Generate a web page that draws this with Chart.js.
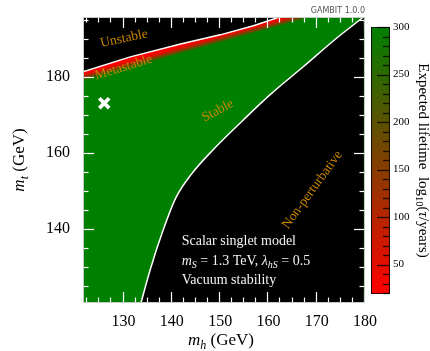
<!DOCTYPE html>
<html><head><meta charset="utf-8">
<script src="https://cdn.jsdelivr.net/npm/chart.js@4.4.1/dist/chart.umd.min.js"></script>
<style>
html,body{margin:0;padding:0;background:#fff;}
#wrap{position:relative;width:430px;height:351px;overflow:hidden;}
#main{position:absolute;left:0;top:0;}
#cbar{position:absolute;left:365px;top:0;}
</style></head><body>
<div id="wrap">
<canvas id="main" width="430" height="351"></canvas>
<canvas id="cbar" width="65" height="351"></canvas>
</div>
<script>
// ---- data ----
const stabilityMh = [121.6, 131.4, 141.8, 150.0, 156.9, 162.3, 179.7];
const stabilityMt = [181.3, 185.2, 188.6, 191.0, 193.4, 195.7, 195.7];
const perturbMh = [133.6, 135.5, 138.2, 140.8, 144.1, 148.5, 154.8, 160.3, 167.2, 174.1, 179.7];
const perturbMt = [120.4, 129.1, 139.6, 148.0, 154.4, 160.7, 168.6, 175.2, 182.6, 190.1, 195.7];
const bestFitMh = [126.0];
const bestFitMt = [173.0];
const xTickValues = [130, 140, 150, 160, 170, 180];
const yTickValues = [140, 160, 180];
const lifetimeRange = [19, 300];
const lifetimeTicks = [50, 100, 150, 200, 250, 300];

const SERIF = '"Liberation Serif", "DejaVu Serif", serif';
const ANNOT = '#c98500';

function pts(xs, ys){ return xs.map((x,i)=>({x:x, y:ys[i]})); }
function fontStr(s){ return (s.it?'italic ':'') + s.sz + 'px ' + SERIF; }
function drawRich(ctx, segs, x, y, angle, align){
  ctx.save(); ctx.translate(x,y); ctx.rotate(angle||0);
  ctx.textAlign='left'; ctx.textBaseline='alphabetic';
  const w = segs.map(s=>{ctx.font=fontStr(s); return ctx.measureText(s.t).width;});
  const tot = w.reduce((a,b)=>a+b,0);
  let cx = align==='center' ? -tot/2 : 0;
  segs.forEach((s,i)=>{ ctx.font=fontStr(s); ctx.fillText(s.t, cx, s.dy||0); cx+=w[i]; });
  ctx.restore();
}
function bandGradient(c){
  const ch=c.chart, a=ch.chartArea;
  if(!a || !ch.scales.x) return 'rgb(0,128,0)';
  const xs=ch.scales.x, ys=ch.scales.y;
  const n=stabilityMh.length-2;
  const x1=xs.getPixelForValue(stabilityMh[0]), y1=ys.getPixelForValue(stabilityMt[0]);
  const x2=xs.getPixelForValue(stabilityMh[n]), y2=ys.getPixelForValue(stabilityMt[n]);
  let dx=x2-x1, dy=y2-y1; const L=Math.hypot(dx,dy); dx/=L; dy/=L;
  const nx=-dy, ny=dx, w=9;
  const g=ch.ctx.createLinearGradient(x1,y1,x1+nx*w,y1+ny*w);
  g.addColorStop(0,'rgb(255,0,0)'); g.addColorStop(0.35,'rgb(228,12,0)');
  g.addColorStop(0.7,'rgb(110,72,0)'); g.addColorStop(1,'rgb(0,128,0)');
  return g;
}
function tickLine(ctx,x1,y1,x2,y2){ ctx.beginPath(); ctx.moveTo(x1,y1); ctx.lineTo(x2,y2); ctx.stroke(); }

const ticksPlugin = {
  id:'inwardTicks',
  afterDatasetsDraw(chart){
    const ctx=chart.ctx, a=chart.chartArea, xs=chart.scales.x, ys=chart.scales.y;
    const L=Math.round(a.left), R=Math.round(a.right), T=Math.round(a.top), B=Math.round(a.bottom);
    ctx.save();
    ctx.strokeStyle='#ffffff'; ctx.lineWidth=1.2; ctx.lineCap='butt';
    for(let v=Math.ceil(xs.min/2.5)*2.5; v<=xs.max+1e-6; v+=2.5){
      const major = xTickValues.some(t=>Math.abs(t-v)<1e-6);
      const len = major?11:5.5; const px=Math.round(xs.getPixelForValue(v))-0.5;
      tickLine(ctx,px,B,px,B-len);
      tickLine(ctx,px,T,px,T+len);
    }
    for(let v=Math.ceil(ys.min/5)*5; v<=ys.max+1e-6; v+=5){
      const major = yTickValues.some(t=>Math.abs(t-v)<1e-6);
      const len = major?11:5.5; const py=Math.round(ys.getPixelForValue(v))+0.5;
      tickLine(ctx,L,py,L+len,py);
      tickLine(ctx,R,py,R-len,py);
    }
    ctx.strokeStyle='#c8c8c8'; ctx.lineWidth=1;
    ctx.strokeRect(L+0.5,T+0.5,R-L-1,B-T-1);
    ctx.restore();
  }
};

const framePlugin = {
  id:'frame',
  beforeDatasetsDraw(chart){
    const {ctx, chartArea:a} = chart;
    ctx.save(); ctx.fillStyle='#000'; ctx.fillRect(a.left,a.top,a.width,a.height); ctx.restore();
  },
  afterDatasetsDraw(chart){
    const ctx=chart.ctx, xs=chart.scales.x, ys=chart.scales.y;
    const P=(mx,mt)=>[xs.getPixelForValue(mx), ys.getPixelForValue(mt)];
    ctx.save();
    ctx.fillStyle=ANNOT; ctx.textAlign='center'; ctx.textBaseline='middle';
    const ann=[['Unstable',130.1,190.0,-12],['Metastable',130.0,182.4,-17],['Stable',149.5,171.0,-28],['Non-perturbative',169.1,150.2,-54]];
    ann.forEach(([t,mx,mt,ang])=>{
      const [px,py]=P(mx,mt);
      ctx.save(); ctx.translate(px,py); ctx.rotate(ang*Math.PI/180);
      ctx.font='13.5px '+SERIF; ctx.fillText(t,0,0); ctx.restore();
    });
    ctx.restore();
    ctx.save(); ctx.fillStyle='#f2f2f2';
    const lx=181.7;
    drawRich(ctx,[{t:'Scalar singlet model',sz:14}],lx,245,0,'left');
    drawRich(ctx,[{t:'m',it:1,sz:14},{t:'S',it:1,sz:10,dy:3},{t:' = 1.3 TeV, ',sz:14},{t:'λ',it:1,sz:14},{t:'hS',it:1,sz:10,dy:3},{t:' = 0.5',sz:14}],lx,264.5,0,'left');
    drawRich(ctx,[{t:'Vacuum stability',sz:14}],lx,283.5,0,'left');
    ctx.restore();
  },
  afterDraw(chart){
    const ctx=chart.ctx, a=chart.chartArea;
    ctx.save(); ctx.fillStyle='#000';
    drawRich(ctx,[{t:'m',it:1,sz:17},{t:'h',it:1,sz:12,dy:3.5},{t:' (GeV)',sz:17}],221,345,0,'center');
    drawRich(ctx,[{t:'m',it:1,sz:17},{t:'t',it:1,sz:12,dy:3.5},{t:' (GeV)',sz:17}],24,160,-Math.PI/2,'center');
    ctx.restore();
    ctx.save(); ctx.fillStyle='#555'; ctx.font='8px "DejaVu Sans", sans-serif';
    ctx.textAlign='right'; ctx.textBaseline='alphabetic'; ctx.fillText('GAMBIT 1.0.0', a.right, 13);
    ctx.restore();
  }
};

new Chart(document.getElementById('main'), {
  type:'line',
  data:{ datasets:[
    { label:'Best fit', data:pts(bestFitMh,bestFitMt), showLine:false, pointStyle:'crossRot',
      pointRadius:7, pointBorderWidth:3.8, pointBorderColor:'#fff', borderColor:'#fff', order:0 },
    { label:'Non-perturbative', data:pts(perturbMh,perturbMt), borderColor:'#fff', borderWidth:1.5,
      pointRadius:0, fill:'start', backgroundColor:'#000', cubicInterpolationMode:'monotone', order:1 },
    { label:'Stability', data:pts(stabilityMh,stabilityMt), borderColor:'#fff', borderWidth:1.5,
      pointRadius:0, fill:'start', backgroundColor:bandGradient, order:2 }
  ]},
  options:{
    responsive:false, animation:false, devicePixelRatio:1,
    layout:{padding:{left:0,right:65,top:17,bottom:0}},
    plugins:{legend:{display:false}, tooltip:{enabled:false}},
    scales:{
      x:{ type:'linear', min:121.6, max:180,
        afterBuildTicks:s=>{ s.ticks = xTickValues.map(v=>({value:v})); },
        afterFit:s=>{ s.height=48; s.paddingLeft=0; s.paddingRight=0; },
        grid:{display:false, drawTicks:false}, border:{display:false},
        ticks:{ color:'#000', font:{family:SERIF,size:16}, padding:9, maxRotation:0, autoSkip:false } },
      y:{ type:'linear', min:120.4, max:195.7,
        afterBuildTicks:s=>{ s.ticks = yTickValues.map(v=>({value:v})); },
        afterFit:s=>{ s.width=83; s.paddingTop=0; s.paddingBottom=0; },
        grid:{display:false, drawTicks:false}, border:{display:false},
        ticks:{ color:'#000', font:{family:SERIF,size:16}, padding:13, autoSkip:false } }
    }
  },
  plugins:[framePlugin, ticksPlugin]
});

// ---- colour bar ----
const cbPlugin = {
  id:'cbticks',
  afterDatasetsDraw(chart){
    const ctx=chart.ctx, a=chart.chartArea, y=chart.scales.y;
    ctx.save(); ctx.strokeStyle='rgba(0,0,0,0.8)'; ctx.lineWidth=1.3;
    for(let v=Math.ceil(y.min/10)*10; v<=y.max; v+=10){
      const major = lifetimeTicks.indexOf(v)>=0;
      const len = major?12:6; const py=Math.round(y.getPixelForValue(v))+0.5;
      tickLine(ctx,a.right-1,py,a.right-1-len,py);
    }
    ctx.restore();
    ctx.save(); ctx.fillStyle='#000';
    drawRich(ctx,[{t:'Expected lifetime  log',sz:15},{t:'10',sz:10.5,dy:3.5},{t:'(',sz:15},{t:'τ',it:1,sz:15},{t:'/years)',sz:15}],54,(a.top+a.bottom)/2,Math.PI/2,'center');
    ctx.restore();
  }
};
new Chart(document.getElementById('cbar'), {
  type:'bar',
  data:{ labels:[''], datasets:[{ data:[lifetimeRange], barPercentage:1, categoryPercentage:1,
    borderWidth:1.2, borderColor:'#000', borderSkipped:false,
    backgroundColor:(c)=>{ const ch=c.chart; if(!ch.chartArea||!ch.scales.y) return 'rgb(128,64,0)';
      const y=ch.scales.y; const g=ch.ctx.createLinearGradient(0,y.getPixelForValue(lifetimeRange[0]),0,y.getPixelForValue(lifetimeRange[1]));
      g.addColorStop(0,'rgb(255,0,0)'); g.addColorStop(1,'rgb(0,128,0)'); return g; } }]},
  options:{
    responsive:false, animation:false, devicePixelRatio:1,
    layout:{padding:{left:6,right:0,top:27,bottom:57}},
    plugins:{legend:{display:false}, tooltip:{enabled:false}},
    scales:{
      x:{display:false},
      y:{ position:'right', min:lifetimeRange[0], max:lifetimeRange[1],
        afterBuildTicks:s=>{ s.ticks = lifetimeTicks.map(v=>({value:v})); },
        afterFit:s=>{ s.width=40; s.paddingTop=0; s.paddingBottom=0; },
        grid:{display:false, drawTicks:false}, border:{display:false},
        ticks:{ color:'#000', font:{family:SERIF,size:11}, padding:3 } }
    }
  },
  plugins:[cbPlugin]
});
</script>
</body></html>
